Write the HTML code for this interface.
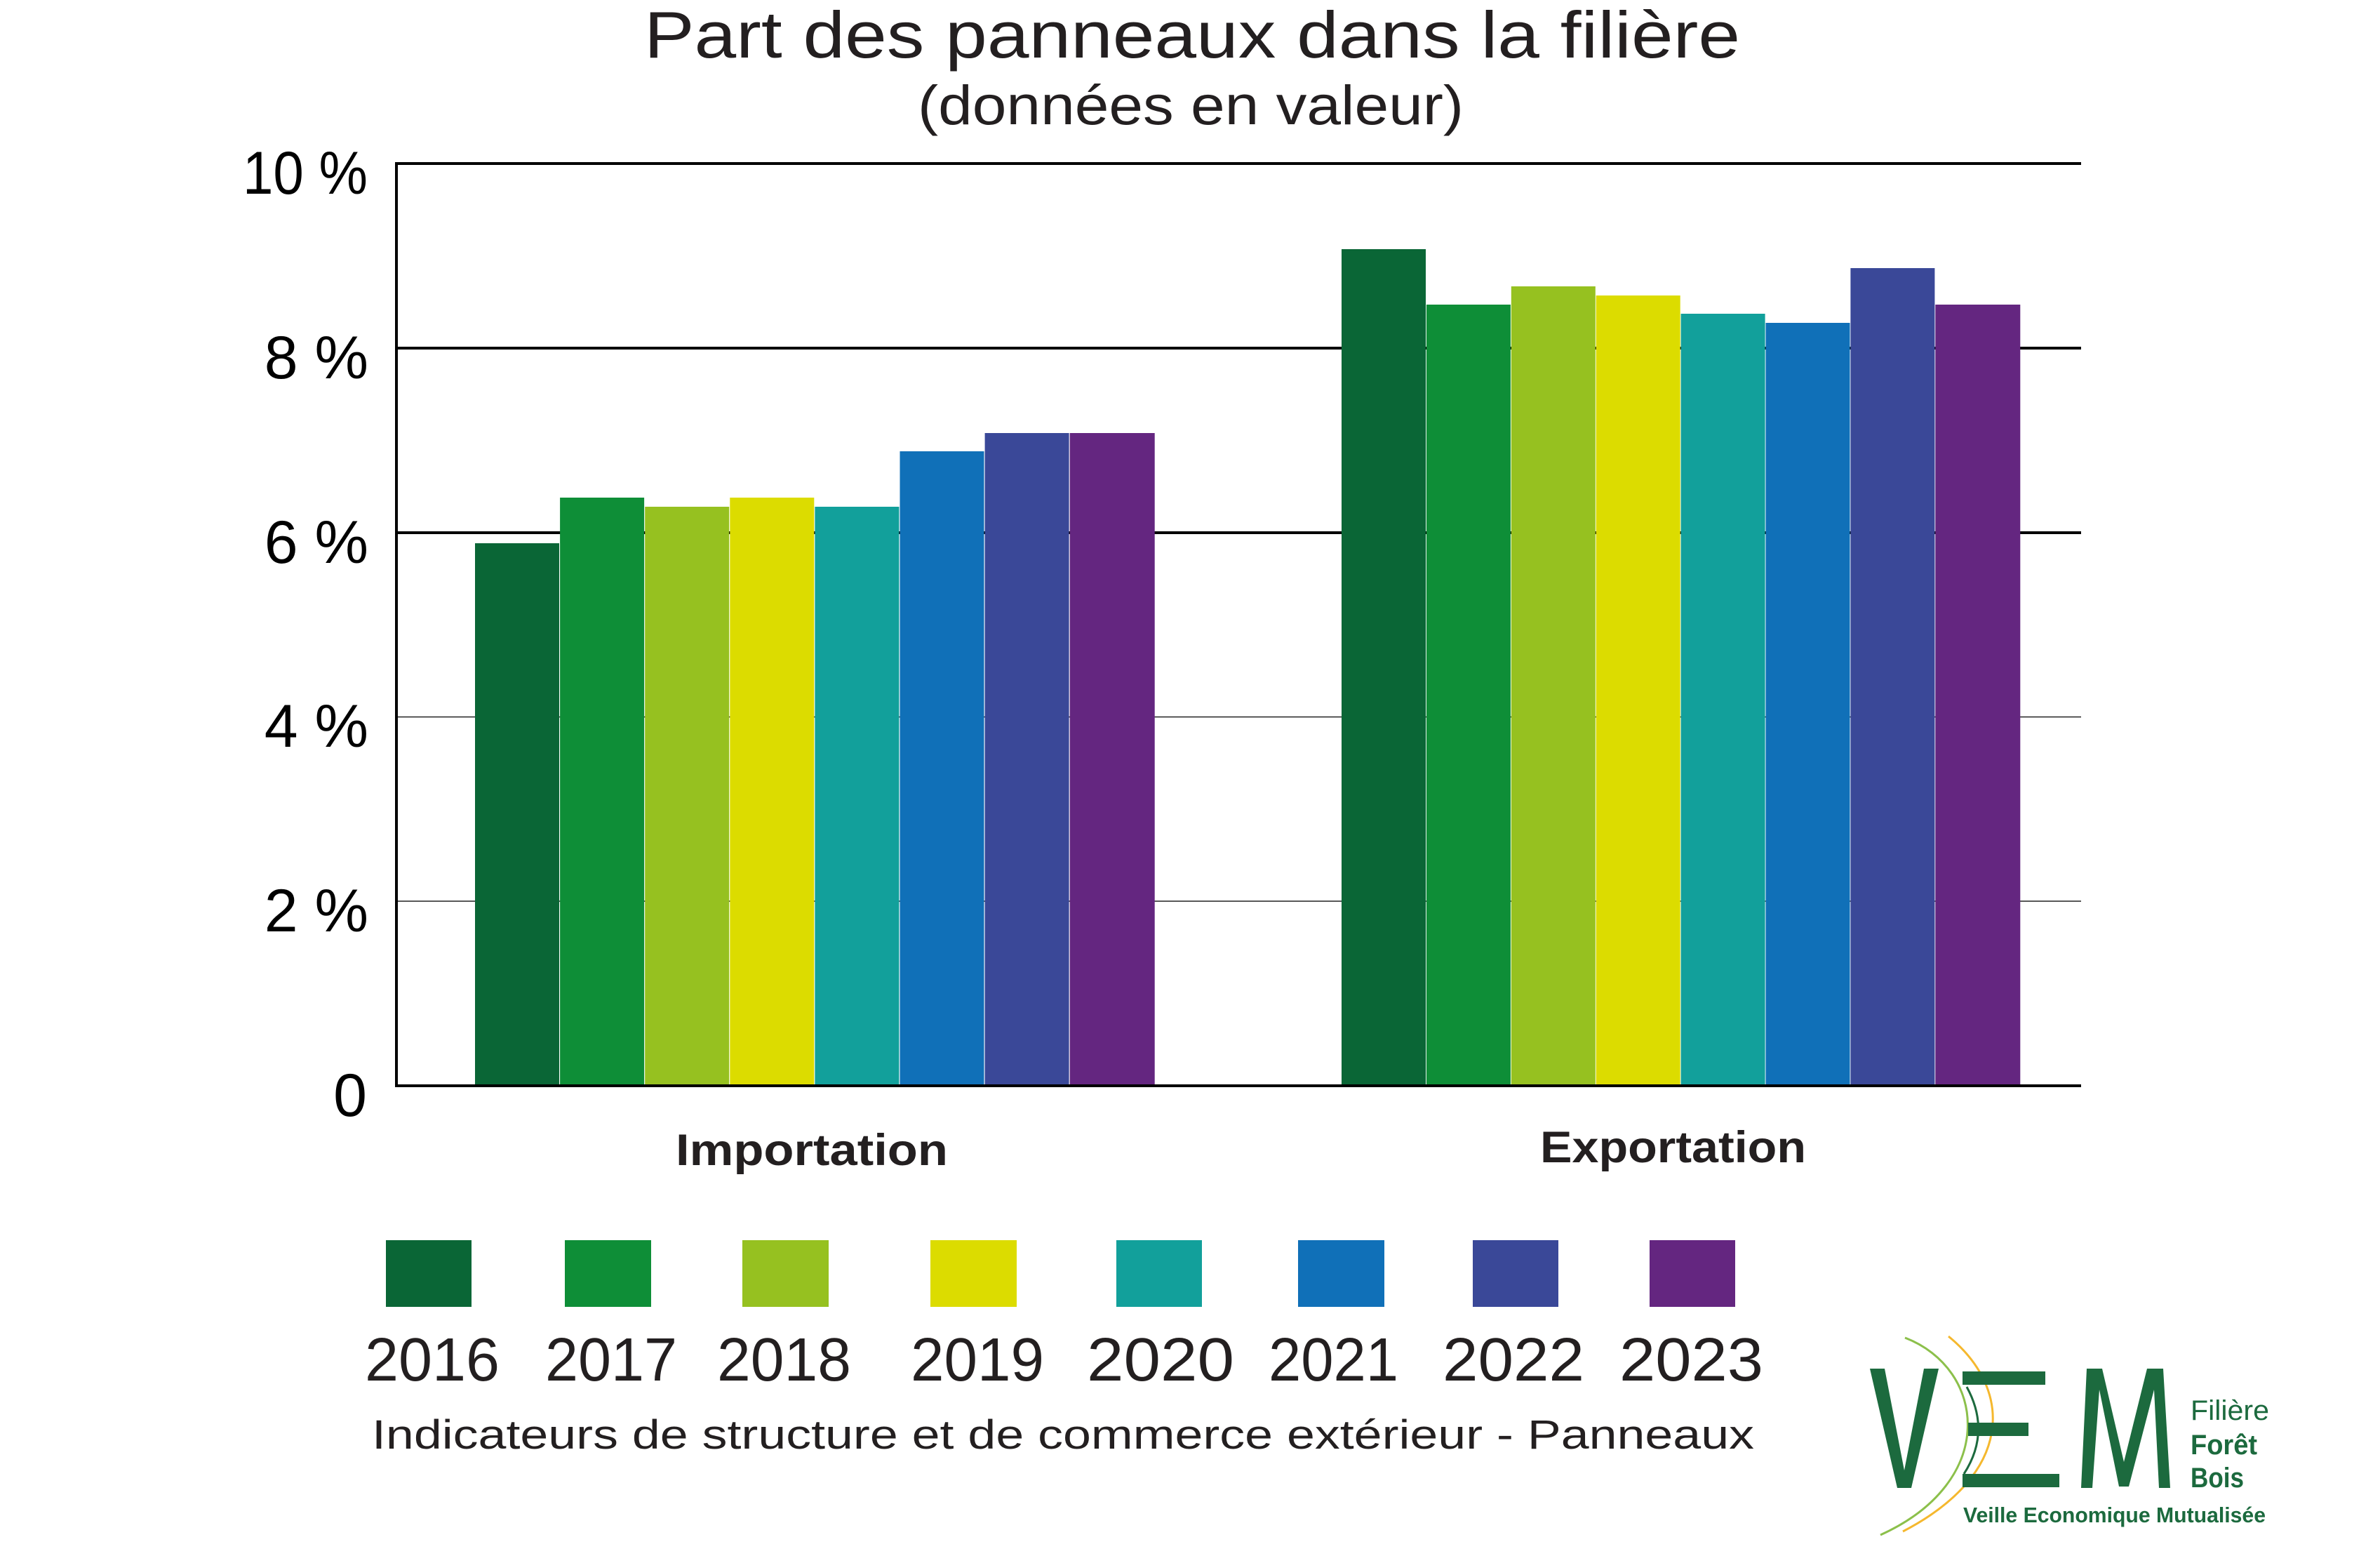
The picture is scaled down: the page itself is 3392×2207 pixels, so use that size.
<!DOCTYPE html>
<html>
<head>
<meta charset="utf-8">
<style>
  html,body{margin:0;padding:0;background:#fff;}
  body{width:3392px;height:2207px;overflow:hidden;}
  svg{display:block;}
  text{font-family:"Liberation Sans", Arial, sans-serif;}
</style>
</head>
<body>
<svg width="3392" height="2207" viewBox="0 0 3392 2207" xmlns="http://www.w3.org/2000/svg">
  <rect x="0" y="0" width="3392" height="2207" fill="#ffffff"/>

  <!-- Title -->
  <text x="918" y="82" font-size="94" fill="#231f20" textLength="1562" lengthAdjust="spacingAndGlyphs">Part des panneaux dans la filière</text>
  <text x="1308" y="177" font-size="79" fill="#231f20" textLength="778" lengthAdjust="spacingAndGlyphs">(données en valeur)</text>

  <!-- Gridlines -->
  <line x1="565" y1="233" x2="2966" y2="233" stroke="#000" stroke-width="4"/>
  <line x1="565" y1="496" x2="2966" y2="496" stroke="#000" stroke-width="4"/>
  <line x1="565" y1="759" x2="2966" y2="759" stroke="#000" stroke-width="4"/>
  <line x1="565" y1="1021.5" x2="2966" y2="1021.5" stroke="#222" stroke-width="1.6"/>
  <line x1="565" y1="1284" x2="2966" y2="1284" stroke="#222" stroke-width="1.6"/>

  <!-- Import bars -->
  <g>
    <rect x="677" y="774" width="120" height="771" fill="#0a6636"/>
    <rect x="798.1" y="709" width="120" height="836" fill="#0e8e37"/>
    <rect x="919.2" y="722" width="120" height="823" fill="#96c120"/>
    <rect x="1040.3" y="709" width="120" height="836" fill="#dcdc00"/>
    <rect x="1161.4" y="722" width="120" height="823" fill="#12a09b"/>
    <rect x="1282.5" y="643" width="120" height="902" fill="#1070b8"/>
    <rect x="1403.6" y="617" width="120" height="928" fill="#3a4898"/>
    <rect x="1524.7" y="617" width="121" height="928" fill="#642680"/>
  </g>
  <!-- Export bars -->
  <g>
    <rect x="1912" y="355" width="120" height="1190" fill="#0a6636"/>
    <rect x="2032.9" y="434" width="120" height="1111" fill="#0e8e37"/>
    <rect x="2153.8" y="408" width="120" height="1137" fill="#96c120"/>
    <rect x="2274.7" y="421" width="120" height="1124" fill="#dcdc00"/>
    <rect x="2395.6" y="447" width="120" height="1098" fill="#12a09b"/>
    <rect x="2516.5" y="460" width="120" height="1085" fill="#1070b8"/>
    <rect x="2637.4" y="382" width="120" height="1163" fill="#3a4898"/>
    <rect x="2758.3" y="434" width="121" height="1111" fill="#642680"/>
  </g>

  <!-- Axes -->
  <line x1="565" y1="231" x2="565" y2="1549" stroke="#000" stroke-width="4"/>
  <line x1="563" y1="1547" x2="2966" y2="1547" stroke="#000" stroke-width="4"/>

  <!-- Y labels -->
  <g font-size="86" fill="#000">
    <text x="346" y="276" textLength="178" lengthAdjust="spacingAndGlyphs">10 %</text>
    <text x="525" y="539" text-anchor="end">8 %</text>
    <text x="525" y="802" text-anchor="end">6 %</text>
    <text x="525" y="1064" text-anchor="end">4 %</text>
    <text x="525" y="1327" text-anchor="end">2 %</text>
    <text x="523" y="1590" text-anchor="end">0</text>
  </g>

  <!-- Category labels -->
  <text x="963" y="1660" font-size="63" font-weight="bold" fill="#231f20" textLength="388" lengthAdjust="spacingAndGlyphs">Importation</text>
  <text x="2195" y="1656" font-size="63" font-weight="bold" fill="#231f20" textLength="379" lengthAdjust="spacingAndGlyphs">Exportation</text>

  <!-- Legend squares -->
  <rect x="550" y="1767" width="122" height="95" fill="#0a6636"/>
  <rect x="805" y="1767" width="123" height="95" fill="#0e8e37"/>
  <rect x="1058" y="1767" width="123" height="95" fill="#96c120"/>
  <rect x="1326" y="1767" width="123" height="95" fill="#dcdc00"/>
  <rect x="1591" y="1767" width="122" height="95" fill="#12a09b"/>
  <rect x="1850" y="1767" width="123" height="95" fill="#1070b8"/>
  <rect x="2099" y="1767" width="122" height="95" fill="#3a4898"/>
  <rect x="2351" y="1767" width="122" height="95" fill="#642680"/>

  <!-- Legend years -->
  <g font-size="87" fill="#231f20">
    <text x="520" y="1967" textLength="192" lengthAdjust="spacingAndGlyphs">2016</text>
    <text x="777" y="1967" textLength="188" lengthAdjust="spacingAndGlyphs">2017</text>
    <text x="1022" y="1967" textLength="191" lengthAdjust="spacingAndGlyphs">2018</text>
    <text x="1298" y="1967" textLength="190" lengthAdjust="spacingAndGlyphs">2019</text>
    <text x="1549" y="1967" textLength="210" lengthAdjust="spacingAndGlyphs">2020</text>
    <text x="1808" y="1967" textLength="185" lengthAdjust="spacingAndGlyphs">2021</text>
    <text x="2056" y="1967" textLength="202" lengthAdjust="spacingAndGlyphs">2022</text>
    <text x="2308" y="1967" textLength="205" lengthAdjust="spacingAndGlyphs">2023</text>
  </g>

  <!-- Footer -->
  <text x="530" y="2064" font-size="58" fill="#231f20" textLength="1970" lengthAdjust="spacingAndGlyphs">Indicateurs de structure et de commerce extérieur - Panneaux</text>

  <!-- Logo -->
  <g>
    <path d="M2715,1906 C2830,1950 2850,2110 2680,2187" fill="none" stroke="#8cc04b" stroke-width="3"/>
    <path d="M2777,1904 C2870,1980 2870,2100 2712,2182" fill="none" stroke="#f5b82e" stroke-width="3"/>
    <polygon points="2665,1950 2686,1950 2714,2095 2742,1950 2763,1950 2724,2120 2704,2120" fill="#1c6a3e"/>
    <rect x="2797" y="1954" width="118" height="19" fill="#1c6a3e"/>
    <rect x="2805" y="2027" width="86" height="19" fill="#1c6a3e"/>
    <rect x="2797" y="2100" width="138" height="19" fill="#1c6a3e"/>
    <path d="M2803,1976 Q2838,2040 2799,2100" fill="none" stroke="#1c6a3e" stroke-width="3"/>
    <polygon points="2974,1950 2996,1950 3027,2083 3060,1950 3083,1950 3093,2120 3077,2120 3070,1980 3034,2118 3020,2118 2992,1980 2982,2120 2966,2120" fill="#1c6a3e"/>
    <text x="3122" y="2023" font-size="40" fill="#1c6a3e" textLength="112" lengthAdjust="spacingAndGlyphs">Filière</text>
    <text x="3122" y="2072" font-size="40" font-weight="bold" fill="#1c6a3e" textLength="95" lengthAdjust="spacingAndGlyphs">Forêt</text>
    <text x="3122" y="2119" font-size="40" font-weight="bold" fill="#1c6a3e" textLength="76" lengthAdjust="spacingAndGlyphs">Bois</text>
    <text x="2798" y="2169" font-size="31" font-weight="bold" fill="#1c6a3e" textLength="431" lengthAdjust="spacingAndGlyphs">Veille Economique Mutualisée</text>
  </g>
</svg>
</body>
</html>
